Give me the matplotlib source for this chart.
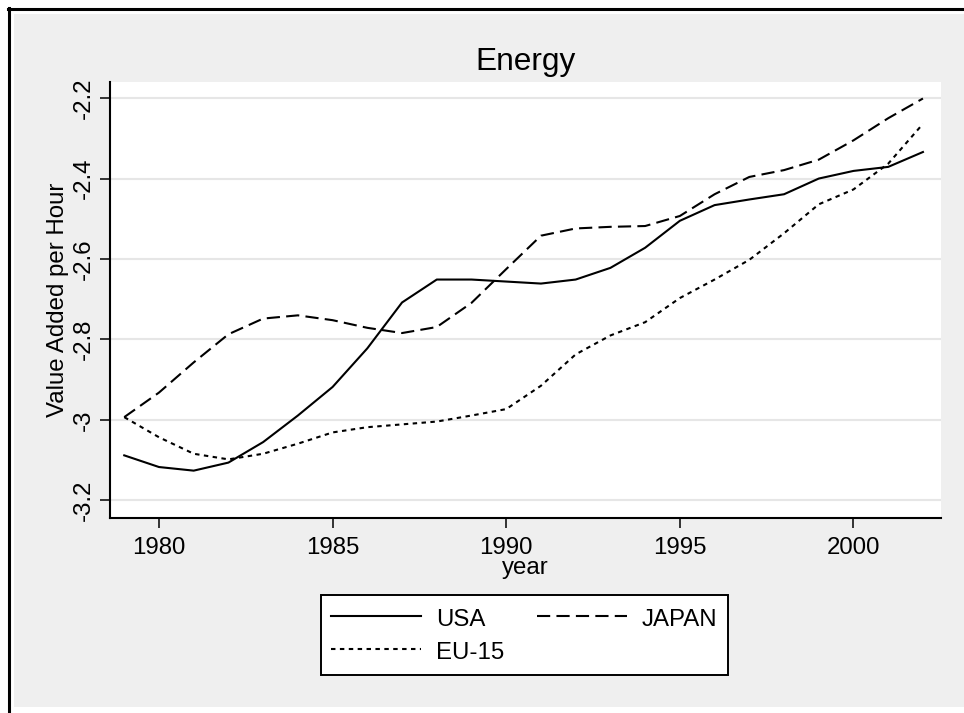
import matplotlib
matplotlib.use("Agg")
import matplotlib.pyplot as plt
from matplotlib.patches import Rectangle
from matplotlib.lines import Line2D

plt.rcParams['font.family'] = ['Liberation Sans', 'DejaVu Sans']
plt.rcParams['lines.scale_dashes'] = False

years = [1979, 1980, 1981, 1982, 1983, 1984, 1985, 1986, 1987, 1988, 1989, 1990,
         1991, 1992, 1993, 1994, 1995, 1996, 1997, 1998, 1999, 2000, 2001, 2002]
usa = [-3.088, -3.117, -3.126, -3.106, -3.055, -2.989, -2.918, -2.822, -2.708, -2.651,
       -2.651, -2.656, -2.661, -2.651, -2.622, -2.572, -2.505, -2.466, -2.452, -2.439,
       -2.400, -2.381, -2.371, -2.334]
japan = [-2.993, -2.932, -2.857, -2.787, -2.748, -2.740, -2.752, -2.771, -2.784, -2.769,
         -2.709, -2.625, -2.542, -2.524, -2.520, -2.518, -2.493, -2.439, -2.396, -2.379,
         -2.353, -2.305, -2.250, -2.201]
eu15 = [-2.993, -3.043, -3.084, -3.098, -3.084, -3.059, -3.031, -3.018, -3.011, -3.004,
        -2.989, -2.973, -2.915, -2.837, -2.790, -2.757, -2.697, -2.651, -2.602, -2.536,
        -2.464, -2.427, -2.363, -2.264]
series_names = ["USA", "JAPAN", "EU-15"]
xticks = [1980, 1985, 1990, 1995, 2000]
yticks = [-3.2, -3.0, -2.8, -2.6, -2.4, -2.2]
ytick_labels = ["-3.2", "-3", "-2.8", "-2.6", "-2.4", "-2.2"]

W, H = 964, 713
fig = plt.figure(figsize=(W / 100, H / 100), dpi=100)
fig.patch.set_facecolor('white')

# Outer gray background and black frame (screenshot style)
fig.patches.append(Rectangle((14 / W, 6 / H), 950 / W, 693 / H, transform=fig.transFigure,
                             facecolor='#efefef', edgecolor='none', zorder=-10))
fig.lines.append(Line2D([9.3 / W, 9.3 / W], [0, 1 - 8 / H], transform=fig.transFigure,
                        color='black', lw=2.2))
fig.lines.append(Line2D([8 / W, 1], [1 - 9.3 / H, 1 - 9.3 / H], transform=fig.transFigure,
                        color='black', lw=2.2))

ax = fig.add_axes([110 / W, 1 - 518 / H, (941 - 110) / W, (518 - 82) / H])
ax.set_facecolor('white')

fs = 17.3
h_usa, = ax.plot(years, usa, color='black', lw=1.5, ls='-', label=series_names[0])
h_jp, = ax.plot(years, japan, color='black', lw=1.5, ls=(0, (9.5, 4.5)), label=series_names[1])
h_eu, = ax.plot(years, eu15, color='black', lw=1.5, ls=(0, (3.2, 3.2)), label=series_names[2])

ax.set_xlim(1978.59, 2002.52)
ax.set_ylim(-3.2437, -2.160)

ax.set_xticks(xticks)
ax.set_yticks(yticks)
ax.set_yticklabels(ytick_labels, rotation=90, va='center')
ax.tick_params(axis='both', which='both', direction='out', length=7, width=1.1,
               labelsize=fs, color='black')
ax.tick_params(axis='x', pad=6.8)
ax.tick_params(axis='y', pad=3.6)

ax.grid(axis='y', color='#e6e6e6', lw=1.5)
ax.set_axisbelow(True)
for s in ['top', 'right']:
    ax.spines[s].set_visible(False)
for s in ['left', 'bottom']:
    ax.spines[s].set_linewidth(1.5)
    ax.spines[s].set_color('black')

ax.set_title("Energy", fontsize=22.8, pad=8.9)
ax.set_xlabel("year", fontsize=fs)
ax.xaxis.set_label_coords(0.5, -0.0899)
ax.set_ylabel("Value Added per Hour", fontsize=fs)
ax.yaxis.set_label_coords(-0.0498, 0.5)

# column-major order so rows read: USA, JAPAN / EU-15
leg = ax.legend([h_usa, h_eu, h_jp], [series_names[0], series_names[2], series_names[1]],
                loc='upper center', bbox_to_anchor=(524.5 / W, 1 - 595 / H),
                bbox_transform=fig.transFigure, ncol=2, fontsize=fs,
                frameon=True, fancybox=False, shadow=False, framealpha=1,
                edgecolor='black', handlelength=3.75, handleheight=1.15,
                handletextpad=0.62, columnspacing=1.35, borderpad=0.45,
                labelspacing=0.34, borderaxespad=0)
leg.get_frame().set_linewidth(1.4)

fig.savefig("out.png", dpi=100, facecolor=fig.get_facecolor())
